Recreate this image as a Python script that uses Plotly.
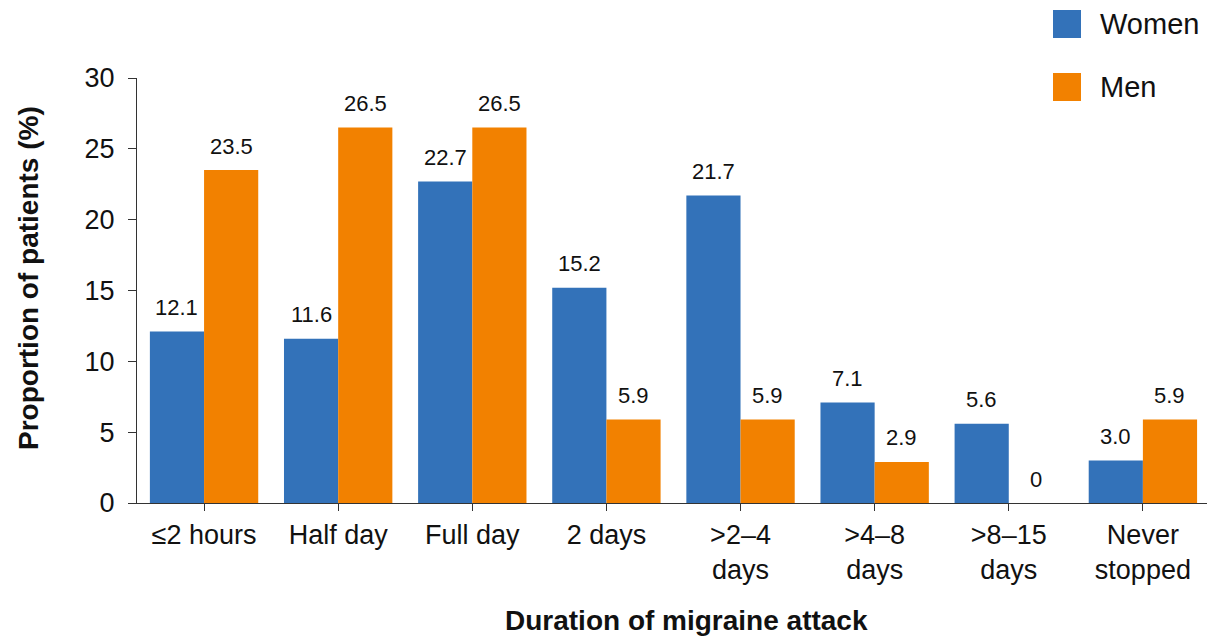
import plotly.graph_objects as go

# Duration categories and share of patients (%) by sex
categories = ["≤2 hours", "Half day", "Full day", "2 days",
              ">2–4<br>days", ">4–8<br>days", ">8–15<br>days", "Never<br>stopped"]
women = [12.1, 11.6, 22.7, 15.2, 21.7, 7.1, 5.6, 3.0]
men = [23.5, 26.5, 26.5, 5.9, 5.9, 2.9, 0, 5.9]
women_labels = ["12.1", "11.6", "22.7", "15.2", "21.7", "7.1", "5.6", "3.0"]
men_labels = ["23.5", "26.5", "26.5", "5.9", "5.9", "2.9", "0", "5.9"]
y_ticks = [0, 5, 10, 15, 20, 25, 30]

BLUE = "#3372B9"
ORANGE = "#F28100"
FONT = "Liberation Sans, Arial, sans-serif"

# Plot area in pixels (used to place the legend and axis titles)
PL, PR, PT, PB = 137, 1207, 78, 503
PW, PH = PR - PL, PB - PT


def px_x(x):
    return (x - PL) / PW


def px_y(y):
    return (PB - y) / PH


x_idx = list(range(len(categories)))

fig = go.Figure()
fig.add_trace(go.Bar(x=x_idx, y=women, name="Women", marker_color=BLUE,
                     marker_line_width=0))
fig.add_trace(go.Bar(x=x_idx, y=men, name="Men", marker_color=ORANGE,
                     marker_line_width=0))

# Value labels above each bar
half = (1 - 0.192) / 4
annotations = []
for i, (w, m) in enumerate(zip(women, men)):
    annotations.append(dict(x=i - half, y=w, text=women_labels[i], showarrow=False,
                            xref="x", yref="y", yanchor="middle", yshift=24,
                            font=dict(size=22, color="#111", family=FONT)))
    annotations.append(dict(x=i + half, y=m, text=men_labels[i], showarrow=False,
                            xref="x", yref="y", yanchor="middle", yshift=24,
                            font=dict(size=22, color="#111", family=FONT)))

# Legend drawn as large swatches with text
legend_items = [("Women", BLUE, 24), ("Men", ORANGE, 87)]
shapes = []
for name, color, yc in legend_items:
    shapes.append(dict(type="rect", xref="paper", yref="paper",
                       x0=px_x(1053), x1=px_x(1081),
                       y0=px_y(yc - 14), y1=px_y(yc + 14),
                       fillcolor=color, line_width=0))
    annotations.append(dict(x=px_x(1098), y=px_y(yc),
                            xref="paper", yref="paper", text=name, showarrow=False,
                            xanchor="left", yanchor="middle",
                            font=dict(size=29, color="#111", family=FONT)))

# Axis titles
annotations.append(dict(x=px_x(687), y=px_y(620), xref="paper", yref="paper",
                        text="<b>Duration of migraine attack</b>", showarrow=False,
                        xanchor="center", yanchor="middle",
                        font=dict(size=28, color="#111", family=FONT)))
annotations.append(dict(x=px_x(28), y=px_y(278), xref="paper", yref="paper",
                        text="<b>Proportion of patients (%)</b>", showarrow=False,
                        textangle=-90, xanchor="center", yanchor="middle",
                        font=dict(size=28, color="#111", family=FONT)))

fig.update_layout(
    width=1207, height=637,
    margin=dict(l=PL, r=1207 - PR, t=PT, b=637 - PB),
    paper_bgcolor="white", plot_bgcolor="white",
    barmode="group", bargap=0.192, bargroupgap=0,
    showlegend=False,
    font=dict(family=FONT, color="#111"),
    annotations=annotations, shapes=shapes,
    xaxis=dict(
        range=[-0.5, 7.478], tickmode="array", tickvals=x_idx, ticktext=categories,
        showline=True, linecolor="#333", linewidth=1.3,
        ticks="outside", ticklen=7, tickcolor="#333", tickwidth=1.3,
        tickfont=dict(size=27, family=FONT, color="#111"),
        showgrid=False, zeroline=False, automargin=False,
    ),
    yaxis=dict(
        range=[0, 30], tickmode="array", tickvals=y_ticks,
        showline=True, linecolor="#333", linewidth=1.3,
        ticks="outside", ticklen=8, tickcolor="#333", tickwidth=1.3,
        ticklabelstandoff=8,
        tickfont=dict(size=27, family=FONT, color="#111"),
        showgrid=False, zeroline=False, automargin=False,
    ),
)

fig.write_html("out.html")
